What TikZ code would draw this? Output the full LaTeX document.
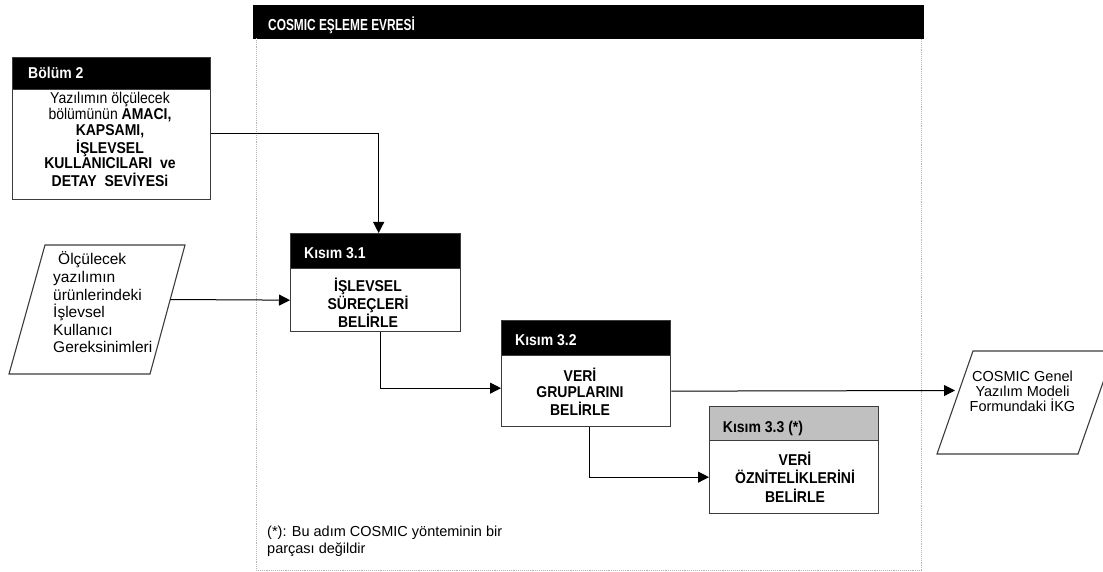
\documentclass[tikz,border=0pt]{standalone}
\usepackage{fontspec}
\setmainfont{Liberation Sans}
\usetikzlibrary{arrows.meta}

\definecolor{edge}{HTML}{3C3C3C}
\definecolor{greyhead}{HTML}{C0C0C0}
\definecolor{dotline}{HTML}{B4B4B4}

% slightly tall lettering, single line or stacked lines
\newcommand\tallline[1]{\scalebox{1}[1.12]{#1}}
\newcommand\tallstack[1]{\scalebox{1}[1.12]{\begin{tabular}{@{}c@{}}#1\end{tabular}}}

\begin{document}
\begin{tikzpicture}[x=1pt,y=-1pt,
  boxhead/.style={draw=edge,line width=1.3pt,fill=black,anchor=north west,inner sep=0pt},
  boxbody/.style={draw=edge,line width=1.3pt,fill=white,anchor=north west,inner sep=0pt},
  headtext/.style={anchor=base west,inner sep=0pt,text=white,font=\bfseries\fontsize{14}{16}\selectfont},
  steptext/.style={inner sep=0pt,font=\bfseries\fontsize{14}{13.9}\selectfont},
  plaintext/.style={inner sep=0pt,font=\fontsize{14.5}{17}\selectfont},
  flow/.style={draw=black,line width=1pt,-{Triangle[length=11pt,width=11pt]}},
  iobox/.style={draw=edge,line width=1.1pt,fill=white},
]
\useasboundingbox (0,0) rectangle (1103,572);
\clip (0,0) rectangle (1103,572);

% mapping phase frame
\node[boxhead,draw=black,minimum width=670pt,minimum height=33pt] (phase) at (253,5) {};
\coordinate (frameTL) at (256,38);
\coordinate (frameBR) at (921,570);
\draw[dotline,densely dotted,line width=0.9pt] (frameTL) |- (frameBR) -- (frameBR |- frameTL);
\node[headtext,font=\bfseries\fontsize{14.5}{16}\selectfont] (phaselabel) at (268,30.7)
  {\scalebox{0.82}[1.1]{COSMIC EŞLEME EVRESİ}};

% chapter 2 input box
\node[boxbody,minimum width=198pt,minimum height=110pt] (b2b) at (12,89) {};
\node[boxhead,minimum width=198pt,minimum height=32pt] (b2h) at (12,57) {};
\node[headtext] (b2l) at (28,78.3) {\tallline{Bölüm 2}};
\node[inner sep=0pt,font=\fontsize{14}{13.66}\selectfont] (b2t) at (110,141.9)
  {\tallstack{Yazılımın ölçülecek\\bölümünün \textbf{AMACI,}\\\textbf{KAPSAMI,}\\\textbf{İŞLEVSEL}\\\textbf{KULLANICILARI \ ve}\\\textbf{DETAY \ SEVİYESi}}};

% section 3.1
\node[boxbody,minimum width=170pt,minimum height=63pt] (k31b) at (290,268) {};
\node[boxhead,minimum width=170pt,minimum height=35pt] (k31h) at (290,233) {};
\node[headtext] (k31l) at (304,258.3) {\tallline{Kısım 3.1}};
\node[steptext,font=\bfseries\fontsize{14}{13.84}\selectfont] (k31t) at (368,305.4)
  {\tallstack{İŞLEVSEL\\SÜREÇLERİ\\BELİRLE}};

% section 3.2
\node[boxbody,minimum width=169pt,minimum height=71pt] (k32b) at (501,355) {};
\node[boxhead,minimum width=169pt,minimum height=35pt] (k32h) at (501,320) {};
\node[headtext] (k32l) at (515,345) {\tallline{Kısım 3.2}};
\node[steptext,font=\bfseries\fontsize{14}{13.97}\selectfont] (k32t) at (580,394.2)
  {\tallstack{VERİ\\GRUPLARINI\\BELİRLE}};

% section 3.3 (optional step)
\node[boxbody,minimum width=169pt,minimum height=73pt] (k33b) at (709,440) {};
\node[boxhead,fill=greyhead,minimum width=169pt,minimum height=34pt] (k33h) at (709,406) {};
\node[headtext,text=black] (k33l) at (722.7,432.3) {\tallline{Kısım 3.3 (*)}};
\node[steptext,font=\bfseries\fontsize{14}{14.55}\selectfont] (k33t) at (795,479.7)
  {\tallstack{VERİ\\ÖZNİTELİKLERİNİ\\BELİRLE}};

% input: functional user requirements
\draw[iobox] (9,374) -- (45,245) -- (185,245) -- (150,374) -- cycle;
\node[plaintext,align=left,anchor=west,font=\fontsize{15.5}{17.6}\selectfont] (fur) at (53,302.5)
  {\hspace*{5pt}Ölçülecek\\yazılımın\\ürünlerindeki\\İşlevsel\\Kullanıcı\\Gereksinimleri};
\coordinate (furout) at (170,299.5);

% output: FUR in generic software model form
\draw[iobox] (937,454) -- (973,351) -- (1114,351) -- (1078,454) -- cycle;
\node[plaintext,align=center,font=\fontsize{14.5}{15}\selectfont] (ikg) at (1022.5,391.4)
  {COSMIC Genel\\Yazılım Modeli\\Formundaki İKG};
\coordinate (ikgin) at (955,390.5);

% footnote
\node[plaintext,align=left,anchor=north west,font=\fontsize{14.5}{16.7}\selectfont] (note) at (267,525.7)
  {(*): Bu adım COSMIC yönteminin bir\\parçası değildir};

% flow connectors
\draw[flow] ([yshift=11pt]b2b.east) -| ([xshift=3pt]k31h.north);
\draw[flow] (furout) -- (k31b.west);
\draw[flow] ([xshift=5pt]k31b.south) |- ([yshift=3pt]k32b.west);
\draw[flow] (k32b.east) -- (ikgin);
\draw[flow] ([xshift=3pt]k32b.south) |- (k33b.west);
\end{tikzpicture}
\end{document}
